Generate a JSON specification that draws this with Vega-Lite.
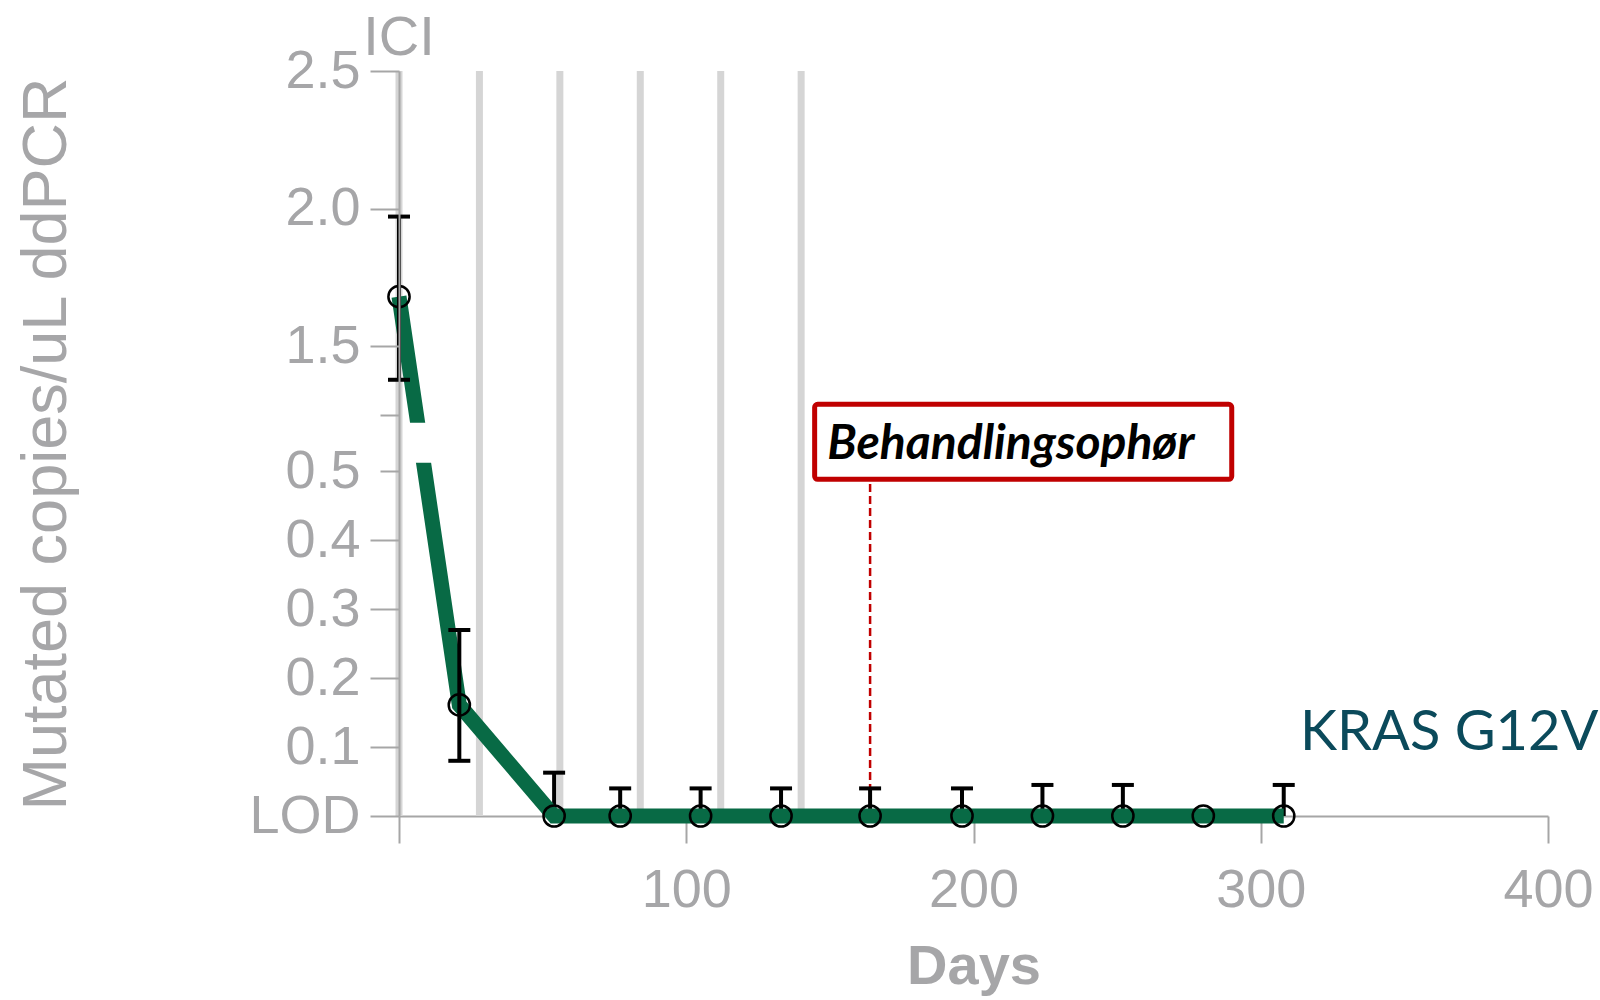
{
  "$schema": "https://vega.github.io/schema/vega-lite/v6.json",
  "width": 1149,
  "height": 745,
  "autosize": {"type": "none"},
  "padding": {"left": 399, "top": 71, "right": 52, "bottom": 184},
  "background": "white",
  "config": {"view": {"stroke": null}, "font": "Liberation Sans", "axis": {"grid": false}},
  "datasets": {
    "ddpcr": [
      {"day": 0, "value": 1.68, "hi": 1.971, "lo": 1.378},
      {"day": 21, "value": 0.161, "hi": 0.2696, "lo": 0.08},
      {"day": 54, "value": 0, "hi": 0.0628, "lo": null},
      {"day": 77, "value": 0, "hi": 0.04, "lo": null},
      {"day": 105, "value": 0, "hi": 0.04, "lo": null},
      {"day": 133, "value": 0, "hi": 0.04, "lo": null},
      {"day": 164, "value": 0, "hi": 0.04, "lo": null},
      {"day": 196, "value": 0, "hi": 0.04, "lo": null},
      {"day": 224, "value": 0, "hi": 0.045, "lo": null},
      {"day": 252, "value": 0, "hi": 0.045, "lo": null},
      {"day": 280, "value": 0, "hi": null, "lo": null},
      {"day": 308, "value": 0, "hi": 0.045, "lo": null}
    ],
    "ici": [{"day": 0}, {"day": 28}, {"day": 56}, {"day": 84}, {"day": 112}, {"day": 140}]
  },
  "layer": [
    {
      "data": {"name": "ici"},
      "mark": {"type": "rule", "color": "#d5d5d5", "strokeWidth": 7},
      "encoding": {
        "x": {
          "field": "day", "type": "quantitative",
          "scale": {"domain": [0, 400], "nice": false, "zero": false},
          "axis": {
            "values": [0, 100, 200, 300, 400],
            "labelExpr": "datum.value == 0 ? '' : datum.label",
            "title": "Days",
            "zindex": 0,
            "domainColor": "#a6a6a6", "domainWidth": 2,
            "tickColor": "#a6a6a6", "tickWidth": 2, "tickSize": 27,
            "labelColor": "#a6a6a8", "labelFontSize": 54, "labelPadding": 20,
            "labelFlush": false, "labelOverlap": false,
            "titleColor": "#a6a6a8", "titleFontSize": 56, "titleFontWeight": "bold", "titlePadding": 22
          }
        }
      }
    },
    {
      "data": {"values": [{}]},
      "mark": {"type": "rule", "color": "#c00000", "strokeWidth": 2.5, "strokeDash": [8, 4]},
      "encoding": {
        "x": {"datum": 164, "type": "quantitative"},
        "y": {"datum": 0, "type": "quantitative"},
        "y2": {"datum": 0.4845}
      }
    },
    {
      "data": {"name": "ddpcr"},
      "transform": [{"filter": "datum.lo == null && datum.hi != null"}],
      "mark": {"type": "rule", "color": "black", "strokeWidth": 4},
      "encoding": {
        "x": {"field": "day", "type": "quantitative"},
        "y": {"field": "value", "type": "quantitative"},
        "y2": {"field": "hi"}
      }
    },
    {
      "data": {"name": "ddpcr"},
      "mark": {"type": "line", "color": "#086a45", "strokeWidth": 15, "strokeCap": "butt"},
      "encoding": {
        "x": {"field": "day", "type": "quantitative"},
        "y": {
          "field": "value", "type": "quantitative",
          "scale": {"domain": [0, 0.5, 1.25, 2.5], "range": [745, 400, 344, 0], "nice": false, "zero": false},
          "axis": {
            "values": [0, 0.1, 0.2, 0.3, 0.4, 0.5, 1.25, 1.5, 2.0, 2.5],
            "labelExpr": "datum.value == 0 ? 'LOD' : (datum.value == 1.25 ? '' : format(datum.value, '.1f'))",
            "title": "Mutated copies/uL ddPCR",
            "zindex": 1,
            "domainColor": "#a6a6a6", "domainWidth": 2,
            "tickColor": "#a6a6a6", "tickWidth": 2,
            "tickSize": {"condition": {"test": "datum.value == 0.5 || datum.value == 1.25", "value": 19}, "value": 29},
            "labelColor": "#a6a6a8", "labelFontSize": 54,
            "labelPadding": {"condition": {"test": "datum.value == 0.5 || datum.value == 1.25", "value": 20}, "value": 10},
            "labelFlush": false, "labelOverlap": false,
            "titleColor": "#a6a6a8", "titleFontSize": 63, "titleFontWeight": "normal", "titlePadding": 170
          }
        }
      }
    },
    {
      "data": {"values": [{}]},
      "mark": {"type": "rect", "color": "white"},
      "encoding": {
        "x": {"datum": 2, "type": "quantitative"},
        "x2": {"datum": 15},
        "y": {"datum": 0.61, "type": "quantitative"},
        "y2": {"datum": 1.147}
      }
    },
    {
      "data": {"name": "ddpcr"},
      "transform": [{"filter": "datum.lo != null"}],
      "mark": {"type": "rule", "color": "black", "strokeWidth": 4},
      "encoding": {
        "x": {"field": "day", "type": "quantitative"},
        "y": {"field": "lo", "type": "quantitative"},
        "y2": {"field": "hi"}
      }
    },
    {
      "data": {"name": "ddpcr"},
      "transform": [{"filter": "datum.hi != null"}],
      "mark": {"type": "tick", "orient": "horizontal", "color": "black", "size": 22, "thickness": 4, "opacity": 1},
      "encoding": {
        "x": {"field": "day", "type": "quantitative"},
        "y": {"field": "hi", "type": "quantitative"}
      }
    },
    {
      "data": {"name": "ddpcr"},
      "transform": [{"filter": "datum.lo != null"}],
      "mark": {"type": "tick", "orient": "horizontal", "color": "black", "size": 22, "thickness": 4, "opacity": 1},
      "encoding": {
        "x": {"field": "day", "type": "quantitative"},
        "y": {"field": "lo", "type": "quantitative"}
      }
    },
    {
      "data": {"name": "ddpcr"},
      "mark": {"type": "point", "shape": "circle", "filled": false, "size": 450, "stroke": "black", "strokeWidth": 2.5, "opacity": 1},
      "encoding": {
        "x": {"field": "day", "type": "quantitative"},
        "y": {"field": "value", "type": "quantitative"}
      }
    },
    {
      "data": {"values": [{}]},
      "mark": {"type": "rect", "fill": "white", "stroke": "#c00000", "strokeWidth": 5, "cornerRadius": 3},
      "encoding": {
        "x": {"datum": 144.7, "type": "quantitative"},
        "x2": {"datum": 289.9},
        "y": {"datum": 0.488, "type": "quantitative"},
        "y2": {"datum": 1.289}
      }
    },
    {
      "data": {"values": [{"label": "Behandlingsophør"}]},
      "mark": {"type": "text", "font": "Lato", "fontSize": 48, "fontWeight": "bold", "fontStyle": "italic", "color": "black", "align": "center", "baseline": "alphabetic"},
      "encoding": {
        "x": {"datum": 213, "type": "quantitative"},
        "y": {"datum": 0.658, "type": "quantitative"},
        "text": {"field": "label"}
      }
    },
    {
      "data": {"values": [{"label": "KRAS G12V"}]},
      "mark": {"type": "text", "font": "Lato", "fontSize": 56, "color": "#0b4a5b", "align": "center", "baseline": "alphabetic"},
      "encoding": {
        "x": {"datum": 365.6, "type": "quantitative"},
        "y": {"datum": 0.0957, "type": "quantitative"},
        "text": {"field": "label"}
      }
    },
    {
      "data": {"values": [{"label": "ICI"}]},
      "mark": {"type": "text", "font": "Liberation Sans", "fontSize": 56, "color": "#a6a6a8", "align": "center", "baseline": "alphabetic", "dy": -16},
      "encoding": {
        "x": {"datum": 0, "type": "quantitative"},
        "y": {"datum": 2.5, "type": "quantitative"},
        "text": {"field": "label"}
      }
    }
  ]
}
